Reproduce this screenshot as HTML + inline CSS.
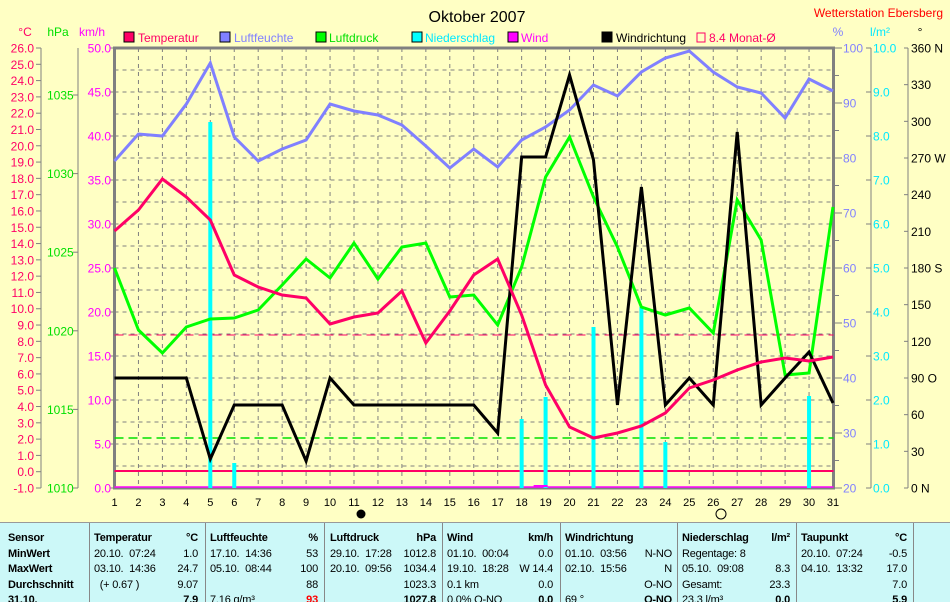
<!DOCTYPE html>
<html><head><meta charset="utf-8"><style>
html,body{margin:0;padding:0;background:#ffffc4;}
svg{display:block;font-family:"Liberation Sans",sans-serif;}
</style></head><body>
<svg id="s" width="950" height="601" viewBox="0 0 950 601" xmlns="http://www.w3.org/2000/svg">
<rect width="950" height="601" fill="#ffffc4"/>
<text x="477" y="22" font-size="16" text-anchor="middle">Oktober 2007</text>
<text x="943" y="17" font-size="12" fill="#ff0000" text-anchor="end">Wetterstation Ebersberg</text>
<g font-size="12">
<text x="25" y="36" fill="#ff0066" text-anchor="middle">°C</text>
<text x="58" y="36" fill="#00e000" text-anchor="middle">hPa</text>
<text x="92" y="36" fill="#ff00ff" text-anchor="middle">km/h</text>
<text x="838" y="36" fill="#8080ff" text-anchor="middle">%</text>
<text x="880" y="36" fill="#00e8ff" text-anchor="middle">l/m²</text>
<text x="920" y="36" fill="#000" text-anchor="middle">°</text>
<rect x="124" y="32" width="10" height="10" fill="#ff0066" stroke="#000"/><text x="138" y="42" fill="#ff0066">Temperatur</text>
<rect x="220" y="32" width="10" height="10" fill="#8080ff" stroke="#000"/><text x="234" y="42" fill="#8080ff">Luftfeuchte</text>
<rect x="316" y="32" width="10" height="10" fill="#00ff00" stroke="#000"/><text x="329" y="42" fill="#00e000">Luftdruck</text>
<rect x="412" y="32" width="10" height="10" fill="#00ffff" stroke="#000"/><text x="425" y="42" fill="#00e8ff">Niederschlag</text>
<rect x="508" y="32" width="10" height="10" fill="#ff00ff" stroke="#000"/><text x="521" y="42" fill="#ff00ff">Wind</text>
<rect x="602" y="32" width="10" height="10" fill="#000" stroke="#000"/><text x="616" y="42" fill="#000">Windrichtung</text>
<rect x="697" y="33" width="8" height="9" fill="none" stroke="#ff0066"/><text x="709" y="42" fill="#ff0066">8.4 Monat-Ø</text>
</g>
<g id="g"></g>
</svg>
<div style="position:absolute;left:0;top:522px;width:950px;height:79px;background:#ccf8f8;border-top:1px solid #999;overflow:hidden;font-family:'Liberation Sans',sans-serif;font-size:11px;letter-spacing:-0.2px;">
</div>
<script>
const NS="http://www.w3.org/2000/svg",g=document.getElementById('g');
function el(t,a,txt){const e=document.createElementNS(NS,t);for(const k in a)e.setAttribute(k,a[k]);if(txt!==undefined)e.textContent=txt;g.appendChild(e);return e;}
const X=d=>114.5+(d-1)*23.95, L=114.5,R=833.5,T=48,B=488;
for(let i=1;i<20;i++){const y=T+i*22;el('line',{x1:L,x2:R,y1:y,y2:y,stroke:'#808080','stroke-dasharray':'4,4','stroke-width':1});}
for(let d=2;d<=30;d++){el('line',{x1:X(d),x2:X(d),y1:T,y2:B,stroke:'#808080','stroke-dasharray':'4,4','stroke-width':1});}
el('rect',{x:L,y:T,width:R-L,height:B-T,fill:'none',stroke:'#808080','stroke-width':3});
el('line',{x1:41,x2:41,y1:48,y2:488,stroke:'#808080'});
for(let v=-1;v<=26;v++){const y=488-(v+1)*440/27;el('line',{x1:36,x2:41,y1:y,y2:y,stroke:'#808080'});el('text',{x:34,y:y+4.5,'font-size':12,fill:'#ff0066','text-anchor':'end'},v.toFixed(1));}
el('line',{x1:78,x2:78,y1:48,y2:488,stroke:'#808080'});
for(let v=1010;v<=1035;v+=5){const y=488-(v-1010)*78.6/5;el('line',{x1:73,x2:78,y1:y,y2:y,stroke:'#808080'});el('text',{x:47,y:y+4.5,'font-size':12,fill:'#00e000'},v);}
for(let v=0;v<=50;v+=5){const y=488-v*8.8;el('line',{x1:110,x2:114,y1:y,y2:y,stroke:'#808080'});el('text',{x:111,y:y+4.5,'font-size':12,fill:'#ff00ff','text-anchor':'end'},v.toFixed(1));}
for(let v=20;v<=100;v+=5){const y=488-(v-20)*5.5;el('line',{x1:834,x2:v%10?839:842,y1:y,y2:y,stroke:'#808080'});if(v%10==0)el('text',{x:843,y:y+4.5,'font-size':12,fill:'#8080ff'},v);}
el('line',{x1:871,x2:871,y1:48,y2:488,stroke:'#808080'});
for(let v=0;v<=10;v++){const y=488-v*44;el('line',{x1:866,x2:871,y1:y,y2:y,stroke:'#808080'});el('text',{x:873,y:y+4.5,'font-size':12,fill:'#00e8ff'},v.toFixed(1));}
el('line',{x1:908,x2:908,y1:48,y2:488,stroke:'#808080'});
for(let v=0;v<=360;v+=30){const y=488-v*440/360;el('line',{x1:904,x2:908,y1:y,y2:y,stroke:'#808080'});const s={0:'    N',90:'   O',180:' S',270:' W',360:' N'}[v]||'';el('text',{x:911,y:y+4.5,'font-size':12,fill:'#000','xml:space':'preserve'},v+s);}
for(let d=1;d<=31;d++){el('text',{x:X(d),y:506,'font-size':11,'text-anchor':'middle'},d);}
el('circle',{cx:361,cy:514,r:4.5,fill:'#000'});el('circle',{cx:721,cy:514,r:5,fill:'none',stroke:'#000'});
el('line',{x1:L,x2:R,y1:335,y2:335,stroke:'#ff0066','stroke-dasharray':'9,5'});
el('line',{x1:L,x2:R,y1:438,y2:438,stroke:'#00e000','stroke-dasharray':'9,5','stroke-width':1.5});
el('line',{x1:L,x2:R,y1:471,y2:471,stroke:'#ff0066','stroke-width':2});
el('line',{x1:L,x2:R,y1:487,y2:487,stroke:'#ff00ff','stroke-width':1.5});
const rain={5:122,6:463,18:419,19:397,21:327,23:307,24:442,30:396};
for(const d in rain){el('rect',{x:X(+d)-2,y:rain[d],width:4,height:488-rain[d],fill:'#00ffff'});}
el('rect',{x:X(18.5),y:485,width:14,height:2,fill:'#ff00ff'});
function line(arr,c){el('polyline',{points:arr.map((y,i)=>X(i+1)+','+y).join(' '),fill:'none',stroke:c,'stroke-width':3,'stroke-linejoin':'miter'});}
line([161,134,136,104,63,137,161,149,140,104,111,115,125,146,168,149,167,140,127,110,85,96,72,58,51,72,87,93,118,79,91],'#8080ff');
line([268,330,353,327,319,318,310,285,259,278,243,279,247,243,297,295,325,267,177,137,197,247,307,315,308,333,200,240,375,373,207],'#00ff00');
line([378,378,378,378,459,405,405,405,461,378,405,405,405,405,405,405,433,157,157,75,160,405,187,405,378,405,132,405,378,352,403],'#000');
line([231,210,179,197,220,275,287,295,298,324,317,313,291,343,311,275,259,315,385,427,438,433,426,413,388,380,370,362,358,361,357],'#ff0066');
</script>
<script>
const rows=[["Sensor","Temperatur","°C","Luftfeuchte","%","Luftdruck","hPa","Wind","km/h","Windrichtung","","Niederschlag","l/m²","Taupunkt","°C"],
["MinWert","20.10.  07:24","1.0","17.10.  14:36","53","29.10.  17:28","1012.8","01.10.  00:04","0.0","01.10.  03:56","N-NO","Regentage: 8","","20.10.  07:24","-0.5"],
["MaxWert","03.10.  14:36","24.7","05.10.  08:44","100","20.10.  09:56","1034.4","19.10.  18:28","W 14.4","02.10.  15:56","N","05.10.  09:08","8.3","04.10.  13:32","17.0"],
["Durchschnitt","  (+ 0.67 )","9.07","","88","","1023.3","0.1 km","0.0","","O-NO","Gesamt:","23.3","","7.0"],
["31.10.","","7.9","7.16 g/m³","93","","1027.8","0.0% O-NO","0.0","69 °","O-NO","23.3 l/m³","0.0","","5.9"]];
const seps=[89,205,324,442,560,677,796,913],cols=[[5,0],[94,198],[210,318],[330,436],[447,553],[565,672],[682,790],[801,907]];
const tb=document.querySelector('div');
let h='';seps.forEach(x=>h+=`<div style="position:absolute;left:${x}px;top:0;width:1px;height:80px;background:#888"></div>`);
rows.forEach((r,ri)=>{const top=9+ri*15.5;
 h+=`<div style="position:absolute;left:8px;top:${top}px;font-weight:bold">${r[0]}</div>`;
 for(let c=0;c<7;c++){const [l,rr]=cols[c+1];const a=r[1+c*2],b=r[2+c*2];const bold=(ri==0)?'font-weight:bold;':'';const bb=(ri==0||ri==4)?'font-weight:bold;':'';
  h+=`<div style="position:absolute;left:${l}px;top:${top}px;white-space:pre;${bold}">${a}</div>`;
  h+=`<div style="position:absolute;right:${950-rr}px;top:${top}px;white-space:pre;${bb}${ri==4&&c==1?'color:red;':''}">${b}</div>`;}
});
tb.innerHTML=h;
</script>
</body></html>
